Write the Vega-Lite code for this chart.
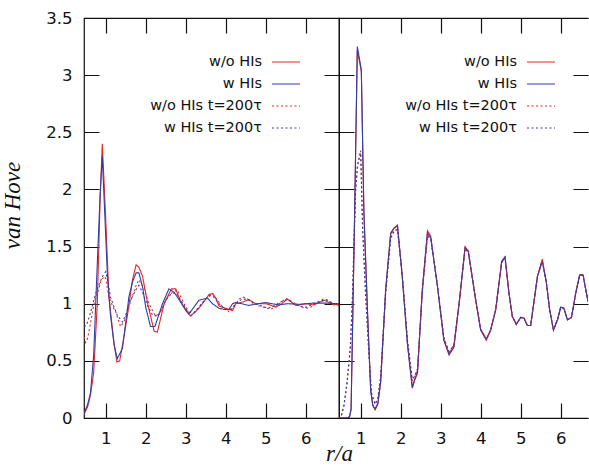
{
  "$schema": "https://vega.github.io/schema/vega-lite/v6.json",
  "padding": {"left": 0, "top": 9, "right": 0, "bottom": 0},
  "spacing": 0,
  "bounds": "flush",
  "background": "white",
  "config": {
    "view": {"stroke": "#111", "strokeWidth": 1.2},
    "axis": {
      "domain": false, "ticks": false,
      "gridColor": "#111", "gridWidth": 1.2, "gridOpacity": 1,
      "labelFont": "DejaVu Sans", "labelFontSize": 16.5, "labelColor": "#111",
      "labelPadding": 12, "labelOverlap": false,
      "titleFont": "Liberation Serif", "titleFontStyle": "italic", "titleFontWeight": "normal",
      "titleFontSize": 23, "titleColor": "#111"
    },
    "legend": {
      "orient": "none", "legendX": 187, "legendY": 29,
      "symbolType": "stroke", "symbolSize": 784, "symbolStrokeWidth": 1.2,
      "labelFont": "DejaVu Sans", "labelFontSize": 14.5, "labelColor": "#111",
      "labelAlign": "right", "labelOffset": -39, "rowPadding": -1.8, "padding": 0
    }
  },
  "datasets": {
    "L": [
      {"s":"w/o HIs","r":0.458,"v":0.03},{"s":"w/o HIs","r":0.55,"v":0.1},{"s":"w/o HIs","r":0.62,"v":0.2},{"s":"w/o HIs","r":0.7,"v":0.4},{"s":"w/o HIs","r":0.79,"v":1.0},{"s":"w/o HIs","r":0.86,"v":1.9},{"s":"w/o HIs","r":0.915,"v":2.4},{"s":"w/o HIs","r":1.0,"v":1.75},{"s":"w/o HIs","r":1.08,"v":1.06},{"s":"w/o HIs","r":1.21,"v":0.65},{"s":"w/o HIs","r":1.28,"v":0.49},{"s":"w/o HIs","r":1.35,"v":0.5},{"s":"w/o HIs","r":1.45,"v":0.7},{"s":"w/o HIs","r":1.54,"v":0.89},{"s":"w/o HIs","r":1.67,"v":1.21},{"s":"w/o HIs","r":1.76,"v":1.34},{"s":"w/o HIs","r":1.83,"v":1.32},{"s":"w/o HIs","r":1.92,"v":1.24},{"s":"w/o HIs","r":2.05,"v":1.0},{"s":"w/o HIs","r":2.21,"v":0.76},{"s":"w/o HIs","r":2.29,"v":0.75},{"s":"w/o HIs","r":2.46,"v":1.0},{"s":"w/o HIs","r":2.64,"v":1.13},{"s":"w/o HIs","r":2.75,"v":1.13},{"s":"w/o HIs","r":2.87,"v":1.02},{"s":"w/o HIs","r":3.0,"v":0.94},{"s":"w/o HIs","r":3.12,"v":0.89},{"s":"w/o HIs","r":3.33,"v":0.96},{"s":"w/o HIs","r":3.5,"v":1.04},{"s":"w/o HIs","r":3.58,"v":1.08},{"s":"w/o HIs","r":3.67,"v":1.09},{"s":"w/o HIs","r":3.75,"v":1.05},{"s":"w/o HIs","r":3.83,"v":0.98},{"s":"w/o HIs","r":4.0,"v":0.96},{"s":"w/o HIs","r":4.17,"v":0.94},{"s":"w/o HIs","r":4.25,"v":1.0},{"s":"w/o HIs","r":4.42,"v":1.015},{"s":"w/o HIs","r":4.58,"v":1.035},{"s":"w/o HIs","r":4.75,"v":1.0},{"s":"w/o HIs","r":5.0,"v":1.0},{"s":"w/o HIs","r":5.1,"v":0.99},{"s":"w/o HIs","r":5.25,"v":0.97},{"s":"w/o HIs","r":5.4,"v":1.0},{"s":"w/o HIs","r":5.54,"v":1.04},{"s":"w/o HIs","r":5.75,"v":0.985},{"s":"w/o HIs","r":6.0,"v":1.0},{"s":"w/o HIs","r":6.2,"v":0.99},{"s":"w/o HIs","r":6.46,"v":1.03},{"s":"w/o HIs","r":6.67,"v":0.995},{"s":"w/o HIs","r":6.83,"v":0.99},

      {"s":"w HIs","r":0.458,"v":0.04},{"s":"w HIs","r":0.55,"v":0.12},{"s":"w HIs","r":0.62,"v":0.22},{"s":"w HIs","r":0.7,"v":0.55},{"s":"w HIs","r":0.79,"v":1.35},{"s":"w HIs","r":0.86,"v":1.95},{"s":"w HIs","r":0.915,"v":2.29},{"s":"w HIs","r":1.04,"v":1.27},{"s":"w HIs","r":1.12,"v":0.9},{"s":"w HIs","r":1.21,"v":0.64},{"s":"w HIs","r":1.29,"v":0.52},{"s":"w HIs","r":1.42,"v":0.61},{"s":"w HIs","r":1.58,"v":1.06},{"s":"w HIs","r":1.67,"v":1.19},{"s":"w HIs","r":1.76,"v":1.27},{"s":"w HIs","r":1.83,"v":1.27},{"s":"w HIs","r":1.92,"v":1.15},{"s":"w HIs","r":2.0,"v":0.97},{"s":"w HIs","r":2.12,"v":0.8},{"s":"w HIs","r":2.23,"v":0.8},{"s":"w HIs","r":2.42,"v":1.0},{"s":"w HIs","r":2.58,"v":1.13},{"s":"w HIs","r":2.71,"v":1.1},{"s":"w HIs","r":2.92,"v":0.99},{"s":"w HIs","r":3.08,"v":0.91},{"s":"w HIs","r":3.33,"v":1.03},{"s":"w HIs","r":3.54,"v":1.05},{"s":"w HIs","r":3.67,"v":1.0},{"s":"w HIs","r":3.83,"v":0.96},{"s":"w HIs","r":3.96,"v":0.95},{"s":"w HIs","r":4.08,"v":0.95},{"s":"w HIs","r":4.17,"v":1.0},{"s":"w HIs","r":4.25,"v":1.01},{"s":"w HIs","r":4.4,"v":1.0},{"s":"w HIs","r":4.58,"v":0.985},{"s":"w HIs","r":4.8,"v":1.0},{"s":"w HIs","r":5.0,"v":1.01},{"s":"w HIs","r":5.15,"v":1.0},{"s":"w HIs","r":5.33,"v":0.99},{"s":"w HIs","r":5.55,"v":1.0},{"s":"w HIs","r":5.83,"v":0.995},{"s":"w HIs","r":6.0,"v":1.0},{"s":"w HIs","r":6.17,"v":1.005},{"s":"w HIs","r":6.5,"v":1.005},{"s":"w HIs","r":6.83,"v":1.0},

      {"s":"w/o HIs t=200τ","r":0.458,"v":0.71},{"s":"w/o HIs t=200τ","r":0.5,"v":0.66},{"s":"w/o HIs t=200τ","r":0.55,"v":0.7},{"s":"w/o HIs t=200τ","r":0.62,"v":0.83},{"s":"w/o HIs t=200τ","r":0.68,"v":0.95},{"s":"w/o HIs t=200τ","r":0.75,"v":1.06},{"s":"w/o HIs t=200τ","r":0.82,"v":1.12},{"s":"w/o HIs t=200τ","r":0.875,"v":1.19},{"s":"w/o HIs t=200τ","r":0.96,"v":1.24},{"s":"w/o HIs t=200τ","r":1.0,"v":1.22},{"s":"w/o HIs t=200τ","r":1.08,"v":1.06},{"s":"w/o HIs t=200τ","r":1.17,"v":0.98},{"s":"w/o HIs t=200τ","r":1.25,"v":0.93},{"s":"w/o HIs t=200τ","r":1.37,"v":0.8},{"s":"w/o HIs t=200τ","r":1.45,"v":0.84},{"s":"w/o HIs t=200τ","r":1.54,"v":0.92},{"s":"w/o HIs t=200τ","r":1.62,"v":1.02},{"s":"w/o HIs t=200τ","r":1.75,"v":1.15},{"s":"w/o HIs t=200τ","r":1.83,"v":1.21},{"s":"w/o HIs t=200τ","r":1.96,"v":1.13},{"s":"w/o HIs t=200τ","r":2.08,"v":1.0},{"s":"w/o HIs t=200τ","r":2.17,"v":0.94},{"s":"w/o HIs t=200τ","r":2.25,"v":0.89},{"s":"w/o HIs t=200τ","r":2.37,"v":0.93},{"s":"w/o HIs t=200τ","r":2.54,"v":1.06},{"s":"w/o HIs t=200τ","r":2.67,"v":1.1},{"s":"w/o HIs t=200τ","r":2.79,"v":1.12},{"s":"w/o HIs t=200τ","r":2.96,"v":1.0},{"s":"w/o HIs t=200τ","r":3.12,"v":0.9},{"s":"w/o HIs t=200τ","r":3.25,"v":0.93},{"s":"w/o HIs t=200τ","r":3.4,"v":1.0},{"s":"w/o HIs t=200τ","r":3.55,"v":1.06},{"s":"w/o HIs t=200τ","r":3.67,"v":1.09},{"s":"w/o HIs t=200τ","r":3.75,"v":1.05},{"s":"w/o HIs t=200τ","r":3.9,"v":0.98},{"s":"w/o HIs t=200τ","r":4.08,"v":0.93},{"s":"w/o HIs t=200τ","r":4.2,"v":0.97},{"s":"w/o HIs t=200τ","r":4.33,"v":1.04},{"s":"w/o HIs t=200τ","r":4.42,"v":1.06},{"s":"w/o HIs t=200τ","r":4.5,"v":1.05},{"s":"w/o HIs t=200τ","r":4.65,"v":1.02},{"s":"w/o HIs t=200τ","r":4.79,"v":0.985},{"s":"w/o HIs t=200τ","r":4.95,"v":0.97},{"s":"w/o HIs t=200τ","r":5.125,"v":0.95},{"s":"w/o HIs t=200τ","r":5.3,"v":0.99},{"s":"w/o HIs t=200τ","r":5.5,"v":1.045},{"s":"w/o HIs t=200τ","r":5.6,"v":1.03},{"s":"w/o HIs t=200τ","r":5.75,"v":1.0},{"s":"w/o HIs t=200τ","r":5.9,"v":0.97},{"s":"w/o HIs t=200τ","r":6.08,"v":0.96},{"s":"w/o HIs t=200τ","r":6.25,"v":1.0},{"s":"w/o HIs t=200τ","r":6.46,"v":1.045},{"s":"w/o HIs t=200τ","r":6.6,"v":1.02},{"s":"w/o HIs t=200τ","r":6.7,"v":0.99},{"s":"w/o HIs t=200τ","r":6.83,"v":0.99},

      {"s":"w HIs t=200τ","r":0.458,"v":0.8},{"s":"w HIs t=200τ","r":0.52,"v":0.81},{"s":"w HIs t=200τ","r":0.62,"v":0.92},{"s":"w HIs t=200τ","r":0.68,"v":1.0},{"s":"w HIs t=200τ","r":0.75,"v":1.09},{"s":"w HIs t=200τ","r":0.85,"v":1.18},{"s":"w HIs t=200τ","r":0.92,"v":1.24},{"s":"w HIs t=200τ","r":1.0,"v":1.28},{"s":"w HIs t=200τ","r":1.05,"v":1.2},{"s":"w HIs t=200τ","r":1.12,"v":1.06},{"s":"w HIs t=200τ","r":1.2,"v":0.98},{"s":"w HIs t=200τ","r":1.29,"v":0.9},{"s":"w HIs t=200τ","r":1.42,"v":0.84},{"s":"w HIs t=200τ","r":1.5,"v":0.9},{"s":"w HIs t=200τ","r":1.62,"v":1.03},{"s":"w HIs t=200τ","r":1.75,"v":1.12},{"s":"w HIs t=200τ","r":1.83,"v":1.16},{"s":"w HIs t=200τ","r":1.92,"v":1.1},{"s":"w HIs t=200τ","r":2.05,"v":0.98},{"s":"w HIs t=200τ","r":2.17,"v":0.9},{"s":"w HIs t=200τ","r":2.3,"v":0.89},{"s":"w HIs t=200τ","r":2.4,"v":0.95},{"s":"w HIs t=200τ","r":2.5,"v":1.03},{"s":"w HIs t=200τ","r":2.62,"v":1.08},{"s":"w HIs t=200τ","r":2.75,"v":1.1},{"s":"w HIs t=200τ","r":2.9,"v":1.02},{"s":"w HIs t=200τ","r":3.05,"v":0.93},{"s":"w HIs t=200τ","r":3.2,"v":0.92},{"s":"w HIs t=200τ","r":3.35,"v":0.98},{"s":"w HIs t=200τ","r":3.5,"v":1.04},{"s":"w HIs t=200τ","r":3.6,"v":1.07},{"s":"w HIs t=200τ","r":3.7,"v":1.06},{"s":"w HIs t=200τ","r":3.83,"v":1.0},{"s":"w HIs t=200τ","r":4.0,"v":0.95},{"s":"w HIs t=200τ","r":4.12,"v":0.95},{"s":"w HIs t=200τ","r":4.25,"v":1.0},{"s":"w HIs t=200τ","r":4.4,"v":1.04},{"s":"w HIs t=200τ","r":4.55,"v":1.04},{"s":"w HIs t=200τ","r":4.7,"v":1.0},{"s":"w HIs t=200τ","r":4.9,"v":0.98},{"s":"w HIs t=200τ","r":5.05,"v":0.96},{"s":"w HIs t=200τ","r":5.2,"v":0.98},{"s":"w HIs t=200τ","r":5.4,"v":1.02},{"s":"w HIs t=200τ","r":5.55,"v":1.04},{"s":"w HIs t=200τ","r":5.7,"v":1.0},{"s":"w HIs t=200τ","r":5.85,"v":0.98},{"s":"w HIs t=200τ","r":6.0,"v":0.97},{"s":"w HIs t=200τ","r":6.2,"v":1.0},{"s":"w HIs t=200τ","r":6.4,"v":1.03},{"s":"w HIs t=200τ","r":6.55,"v":1.03},{"s":"w HIs t=200τ","r":6.7,"v":1.0},{"s":"w HIs t=200τ","r":6.83,"v":1.0}
    ],
    "R": [
      {"s":"w/o HIs","r":0.458,"v":0.0},{"s":"w/o HIs","r":0.55,"v":0.0},{"s":"w/o HIs","r":0.65,"v":0.0},{"s":"w/o HIs","r":0.72,"v":0.01},{"s":"w/o HIs","r":0.76,"v":0.07},{"s":"w/o HIs","r":0.84,"v":1.6},{"s":"w/o HIs","r":0.916,"v":3.22},{"s":"w/o HIs","r":1.016,"v":3.03},{"s":"w/o HIs","r":1.08,"v":1.82},{"s":"w/o HIs","r":1.17,"v":0.95},{"s":"w/o HIs","r":1.25,"v":0.25},{"s":"w/o HIs","r":1.3,"v":0.12},{"s":"w/o HIs","r":1.36,"v":0.07},{"s":"w/o HIs","r":1.43,"v":0.12},{"s":"w/o HIs","r":1.5,"v":0.31},{"s":"w/o HIs","r":1.625,"v":1.12},{"s":"w/o HIs","r":1.75,"v":1.62},{"s":"w/o HIs","r":1.83,"v":1.66},{"s":"w/o HIs","r":1.92,"v":1.69},{"s":"w/o HIs","r":2.04,"v":1.24},{"s":"w/o HIs","r":2.17,"v":0.65},{"s":"w/o HIs","r":2.29,"v":0.26},{"s":"w/o HIs","r":2.35,"v":0.33},{"s":"w/o HIs","r":2.42,"v":0.39},{"s":"w/o HIs","r":2.54,"v":1.12},{"s":"w/o HIs","r":2.67,"v":1.64},{"s":"w/o HIs","r":2.75,"v":1.59},{"s":"w/o HIs","r":2.92,"v":1.15},{"s":"w/o HIs","r":3.08,"v":0.68},{"s":"w/o HIs","r":3.21,"v":0.55},{"s":"w/o HIs","r":3.33,"v":0.62},{"s":"w/o HIs","r":3.46,"v":1.0},{"s":"w/o HIs","r":3.61,"v":1.5},{"s":"w/o HIs","r":3.69,"v":1.46},{"s":"w/o HIs","r":3.875,"v":1.03},{"s":"w/o HIs","r":4.0,"v":0.77},{"s":"w/o HIs","r":4.14,"v":0.68},{"s":"w/o HIs","r":4.25,"v":0.77},{"s":"w/o HIs","r":4.375,"v":0.945},{"s":"w/o HIs","r":4.525,"v":1.37},{"s":"w/o HIs","r":4.608,"v":1.41},{"s":"w/o HIs","r":4.708,"v":1.09},{"s":"w/o HIs","r":4.79,"v":0.89},{"s":"w/o HIs","r":4.89,"v":0.82},{"s":"w/o HIs","r":5.0,"v":0.88},{"s":"w/o HIs","r":5.08,"v":0.875},{"s":"w/o HIs","r":5.167,"v":0.81},{"s":"w/o HIs","r":5.25,"v":0.81},{"s":"w/o HIs","r":5.42,"v":1.24},{"s":"w/o HIs","r":5.54,"v":1.39},{"s":"w/o HIs","r":5.64,"v":1.19},{"s":"w/o HIs","r":5.725,"v":0.945},{"s":"w/o HIs","r":5.82,"v":0.77},{"s":"w/o HIs","r":5.92,"v":0.86},{"s":"w/o HIs","r":6.0,"v":0.97},{"s":"w/o HIs","r":6.08,"v":0.96},{"s":"w/o HIs","r":6.17,"v":0.86},{"s":"w/o HIs","r":6.27,"v":0.88},{"s":"w/o HIs","r":6.375,"v":1.09},{"s":"w/o HIs","r":6.475,"v":1.25},{"s":"w/o HIs","r":6.56,"v":1.25},{"s":"w/o HIs","r":6.683,"v":1.02},

      {"s":"w HIs","r":0.458,"v":0.0},{"s":"w HIs","r":0.55,"v":0.0},{"s":"w HIs","r":0.65,"v":0.0},{"s":"w HIs","r":0.72,"v":0.01},{"s":"w HIs","r":0.76,"v":0.08},{"s":"w HIs","r":0.84,"v":1.62},{"s":"w HIs","r":0.916,"v":3.25},{"s":"w HIs","r":1.016,"v":3.05},{"s":"w HIs","r":1.08,"v":1.8},{"s":"w HIs","r":1.17,"v":0.93},{"s":"w HIs","r":1.25,"v":0.24},{"s":"w HIs","r":1.3,"v":0.11},{"s":"w HIs","r":1.36,"v":0.08},{"s":"w HIs","r":1.43,"v":0.13},{"s":"w HIs","r":1.5,"v":0.32},{"s":"w HIs","r":1.625,"v":1.13},{"s":"w HIs","r":1.75,"v":1.61},{"s":"w HIs","r":1.83,"v":1.66},{"s":"w HIs","r":1.92,"v":1.68},{"s":"w HIs","r":2.04,"v":1.23},{"s":"w HIs","r":2.17,"v":0.64},{"s":"w HIs","r":2.29,"v":0.27},{"s":"w HIs","r":2.35,"v":0.34},{"s":"w HIs","r":2.42,"v":0.4},{"s":"w HIs","r":2.54,"v":1.12},{"s":"w HIs","r":2.67,"v":1.62},{"s":"w HIs","r":2.75,"v":1.58},{"s":"w HIs","r":2.92,"v":1.15},{"s":"w HIs","r":3.08,"v":0.68},{"s":"w HIs","r":3.21,"v":0.56},{"s":"w HIs","r":3.33,"v":0.62},{"s":"w HIs","r":3.46,"v":1.0},{"s":"w HIs","r":3.61,"v":1.49},{"s":"w HIs","r":3.69,"v":1.46},{"s":"w HIs","r":3.875,"v":1.03},{"s":"w HIs","r":4.0,"v":0.77},{"s":"w HIs","r":4.14,"v":0.69},{"s":"w HIs","r":4.25,"v":0.77},{"s":"w HIs","r":4.375,"v":0.945},{"s":"w HIs","r":4.525,"v":1.37},{"s":"w HIs","r":4.608,"v":1.41},{"s":"w HIs","r":4.708,"v":1.09},{"s":"w HIs","r":4.79,"v":0.89},{"s":"w HIs","r":4.89,"v":0.82},{"s":"w HIs","r":5.0,"v":0.88},{"s":"w HIs","r":5.08,"v":0.875},{"s":"w HIs","r":5.167,"v":0.81},{"s":"w HIs","r":5.25,"v":0.81},{"s":"w HIs","r":5.42,"v":1.24},{"s":"w HIs","r":5.54,"v":1.37},{"s":"w HIs","r":5.64,"v":1.19},{"s":"w HIs","r":5.725,"v":0.945},{"s":"w HIs","r":5.82,"v":0.77},{"s":"w HIs","r":5.92,"v":0.86},{"s":"w HIs","r":6.0,"v":0.97},{"s":"w HIs","r":6.08,"v":0.96},{"s":"w HIs","r":6.17,"v":0.86},{"s":"w HIs","r":6.27,"v":0.88},{"s":"w HIs","r":6.375,"v":1.09},{"s":"w HIs","r":6.475,"v":1.25},{"s":"w HIs","r":6.56,"v":1.25},{"s":"w HIs","r":6.683,"v":1.02},

      {"s":"w/o HIs t=200τ","r":0.458,"v":0.0},{"s":"w/o HIs t=200τ","r":0.5,"v":0.0},{"s":"w/o HIs t=200τ","r":0.58,"v":0.1},{"s":"w/o HIs t=200τ","r":0.66,"v":0.3},{"s":"w/o HIs t=200τ","r":0.74,"v":0.6},{"s":"w/o HIs t=200τ","r":0.79,"v":1.0},{"s":"w/o HIs t=200τ","r":0.84,"v":1.6},{"s":"w/o HIs t=200τ","r":0.875,"v":2.0},{"s":"w/o HIs t=200τ","r":0.92,"v":2.2},{"s":"w/o HIs t=200τ","r":0.98,"v":2.3},{"s":"w/o HIs t=200τ","r":1.0,"v":2.32},{"s":"w/o HIs t=200τ","r":1.05,"v":1.65},{"s":"w/o HIs t=200τ","r":1.12,"v":1.12},{"s":"w/o HIs t=200τ","r":1.2,"v":0.6},{"s":"w/o HIs t=200τ","r":1.27,"v":0.22},{"s":"w/o HIs t=200τ","r":1.36,"v":0.12},{"s":"w/o HIs t=200τ","r":1.43,"v":0.17},{"s":"w/o HIs t=200τ","r":1.5,"v":0.36},{"s":"w/o HIs t=200τ","r":1.625,"v":1.1},{"s":"w/o HIs t=200τ","r":1.75,"v":1.58},{"s":"w/o HIs t=200τ","r":1.83,"v":1.64},{"s":"w/o HIs t=200τ","r":1.92,"v":1.65},{"s":"w/o HIs t=200τ","r":2.04,"v":1.25},{"s":"w/o HIs t=200τ","r":2.17,"v":0.68},{"s":"w/o HIs t=200τ","r":2.29,"v":0.33},{"s":"w/o HIs t=200τ","r":2.35,"v":0.36},{"s":"w/o HIs t=200τ","r":2.42,"v":0.42},{"s":"w/o HIs t=200τ","r":2.54,"v":1.1},{"s":"w/o HIs t=200τ","r":2.67,"v":1.6},{"s":"w/o HIs t=200τ","r":2.75,"v":1.58},{"s":"w/o HIs t=200τ","r":2.92,"v":1.16},{"s":"w/o HIs t=200τ","r":3.08,"v":0.7},{"s":"w/o HIs t=200τ","r":3.21,"v":0.57},{"s":"w/o HIs t=200τ","r":3.33,"v":0.64},{"s":"w/o HIs t=200τ","r":3.46,"v":1.0},{"s":"w/o HIs t=200τ","r":3.61,"v":1.48},{"s":"w/o HIs t=200τ","r":3.69,"v":1.46},{"s":"w/o HIs t=200τ","r":3.875,"v":1.04},{"s":"w/o HIs t=200τ","r":4.0,"v":0.78},{"s":"w/o HIs t=200τ","r":4.14,"v":0.69},{"s":"w/o HIs t=200τ","r":4.25,"v":0.77},{"s":"w/o HIs t=200τ","r":4.375,"v":0.95},{"s":"w/o HIs t=200τ","r":4.525,"v":1.36},{"s":"w/o HIs t=200τ","r":4.608,"v":1.4},{"s":"w/o HIs t=200τ","r":4.708,"v":1.09},{"s":"w/o HIs t=200τ","r":4.79,"v":0.89},{"s":"w/o HIs t=200τ","r":4.89,"v":0.82},{"s":"w/o HIs t=200τ","r":5.0,"v":0.88},{"s":"w/o HIs t=200τ","r":5.08,"v":0.875},{"s":"w/o HIs t=200τ","r":5.167,"v":0.81},{"s":"w/o HIs t=200τ","r":5.25,"v":0.81},{"s":"w/o HIs t=200τ","r":5.42,"v":1.24},{"s":"w/o HIs t=200τ","r":5.54,"v":1.38},{"s":"w/o HIs t=200τ","r":5.64,"v":1.19},{"s":"w/o HIs t=200τ","r":5.725,"v":0.945},{"s":"w/o HIs t=200τ","r":5.82,"v":0.77},{"s":"w/o HIs t=200τ","r":5.92,"v":0.86},{"s":"w/o HIs t=200τ","r":6.0,"v":0.97},{"s":"w/o HIs t=200τ","r":6.08,"v":0.96},{"s":"w/o HIs t=200τ","r":6.17,"v":0.86},{"s":"w/o HIs t=200τ","r":6.27,"v":0.88},{"s":"w/o HIs t=200τ","r":6.375,"v":1.09},{"s":"w/o HIs t=200τ","r":6.475,"v":1.25},{"s":"w/o HIs t=200τ","r":6.56,"v":1.25},{"s":"w/o HIs t=200τ","r":6.683,"v":1.02},

      {"s":"w HIs t=200τ","r":0.458,"v":0.0},{"s":"w HIs t=200τ","r":0.5,"v":0.0},{"s":"w HIs t=200τ","r":0.58,"v":0.11},{"s":"w HIs t=200τ","r":0.66,"v":0.32},{"s":"w HIs t=200τ","r":0.74,"v":0.62},{"s":"w HIs t=200τ","r":0.79,"v":1.02},{"s":"w HIs t=200τ","r":0.84,"v":1.62},{"s":"w HIs t=200τ","r":0.875,"v":2.0},{"s":"w HIs t=200τ","r":0.92,"v":2.21},{"s":"w HIs t=200τ","r":0.98,"v":2.31},{"s":"w HIs t=200τ","r":1.0,"v":2.34},{"s":"w HIs t=200τ","r":1.05,"v":1.64},{"s":"w HIs t=200τ","r":1.12,"v":1.1},{"s":"w HIs t=200τ","r":1.2,"v":0.59},{"s":"w HIs t=200τ","r":1.27,"v":0.21},{"s":"w HIs t=200τ","r":1.36,"v":0.12},{"s":"w HIs t=200τ","r":1.43,"v":0.17},{"s":"w HIs t=200τ","r":1.5,"v":0.36},{"s":"w HIs t=200τ","r":1.625,"v":1.1},{"s":"w HIs t=200τ","r":1.75,"v":1.57},{"s":"w HIs t=200τ","r":1.83,"v":1.63},{"s":"w HIs t=200τ","r":1.92,"v":1.65},{"s":"w HIs t=200τ","r":2.04,"v":1.25},{"s":"w HIs t=200τ","r":2.17,"v":0.68},{"s":"w HIs t=200τ","r":2.29,"v":0.34},{"s":"w HIs t=200τ","r":2.35,"v":0.37},{"s":"w HIs t=200τ","r":2.42,"v":0.43},{"s":"w HIs t=200τ","r":2.54,"v":1.1},{"s":"w HIs t=200τ","r":2.67,"v":1.59},{"s":"w HIs t=200τ","r":2.75,"v":1.57},{"s":"w HIs t=200τ","r":2.92,"v":1.16},{"s":"w HIs t=200τ","r":3.08,"v":0.7},{"s":"w HIs t=200τ","r":3.21,"v":0.58},{"s":"w HIs t=200τ","r":3.33,"v":0.64},{"s":"w HIs t=200τ","r":3.46,"v":1.0},{"s":"w HIs t=200τ","r":3.61,"v":1.48},{"s":"w HIs t=200τ","r":3.69,"v":1.45},{"s":"w HIs t=200τ","r":3.875,"v":1.04},{"s":"w HIs t=200τ","r":4.0,"v":0.78},{"s":"w HIs t=200τ","r":4.14,"v":0.69},{"s":"w HIs t=200τ","r":4.25,"v":0.77},{"s":"w HIs t=200τ","r":4.375,"v":0.95},{"s":"w HIs t=200τ","r":4.525,"v":1.36},{"s":"w HIs t=200τ","r":4.608,"v":1.4},{"s":"w HIs t=200τ","r":4.708,"v":1.09},{"s":"w HIs t=200τ","r":4.79,"v":0.89},{"s":"w HIs t=200τ","r":4.89,"v":0.82},{"s":"w HIs t=200τ","r":5.0,"v":0.88},{"s":"w HIs t=200τ","r":5.08,"v":0.875},{"s":"w HIs t=200τ","r":5.167,"v":0.81},{"s":"w HIs t=200τ","r":5.25,"v":0.81},{"s":"w HIs t=200τ","r":5.42,"v":1.24},{"s":"w HIs t=200τ","r":5.54,"v":1.37},{"s":"w HIs t=200τ","r":5.64,"v":1.19},{"s":"w HIs t=200τ","r":5.725,"v":0.945},{"s":"w HIs t=200τ","r":5.82,"v":0.77},{"s":"w HIs t=200τ","r":5.92,"v":0.86},{"s":"w HIs t=200τ","r":6.0,"v":0.97},{"s":"w HIs t=200τ","r":6.08,"v":0.96},{"s":"w HIs t=200τ","r":6.17,"v":0.86},{"s":"w HIs t=200τ","r":6.27,"v":0.88},{"s":"w HIs t=200τ","r":6.375,"v":1.09},{"s":"w HIs t=200τ","r":6.475,"v":1.25},{"s":"w HIs t=200τ","r":6.56,"v":1.25},{"s":"w HIs t=200τ","r":6.683,"v":1.02}
    ]
  },
  "hconcat": [
    {
      "width": 255, "height": 400,
      "data": {"name": "L"},
      "mark": {"type": "line", "strokeWidth": 1.1, "clip": true},
      "encoding": {
        "x": {"field": "r", "type": "quantitative", "scale": {"domain": [0.458, 6.83], "nice": false, "zero": false},
              "axis": {"orient": "bottom", "values": [1,2,3,4,5,6], "format": "d", "grid": true, "gridDash": [15, 370, 15],
                       "title": "r/a", "titleX": 255, "titleY": 42, "titleAlign": "center", "titleBaseline": "alphabetic"}},
        "y": {"field": "v", "type": "quantitative", "scale": {"domain": [0, 3.5], "nice": false, "zero": false},
              "axis": {"orient": "left", "values": [0,0.5,1,1.5,2,2.5,3,3.5], "format": "~g", "grid": true, "gridDash": [15, 225, 15],
                       "title": "van Hove", "titleX": -65, "titleY": 187, "titleAngle": 270, "titleAlign": "center", "titleBaseline": "alphabetic"}},
        "color": {"field": "s", "type": "nominal", "scale": {"domain": ["w/o HIs", "w HIs", "w/o HIs t=200τ", "w HIs t=200τ"], "range": ["#e3262b", "#2f3ea6", "#e3262b", "#2f3ea6"]}, "legend": {"title": null}},
        "strokeDash": {"field": "s", "type": "nominal", "scale": {"domain": ["w/o HIs", "w HIs", "w/o HIs t=200τ", "w HIs t=200τ"], "range": [[1,0],[1,0],[2,2.5],[2,2.5]]}, "legend": {"title": null}}
      }
    },
    {
      "width": 249, "height": 400,
      "view": {"stroke": "#111", "strokeWidth": 1.2, "strokeDash": [249, 400, 649]},
      "data": {"name": "R"},
      "mark": {"type": "line", "strokeWidth": 1.1, "clip": true},
      "encoding": {
        "x": {"field": "r", "type": "quantitative", "scale": {"domain": [0.458, 6.683], "nice": false, "zero": false},
              "axis": {"orient": "bottom", "values": [1,2,3,4,5,6], "format": "d", "grid": true, "gridDash": [15, 370, 15], "title": null}},
        "y": {"field": "v", "type": "quantitative", "scale": {"domain": [0, 3.5], "nice": false, "zero": false},
              "axis": {"orient": "left", "labels": false, "values": [0,0.5,1,1.5,2,2.5,3,3.5], "grid": true, "gridDash": [15, 219, 15], "title": null}},
        "color": {"field": "s", "type": "nominal", "scale": {"domain": ["w/o HIs", "w HIs", "w/o HIs t=200τ", "w HIs t=200τ"], "range": ["#e3262b", "#2f3ea6", "#e3262b", "#2f3ea6"]}, "legend": {"title": null}},
        "strokeDash": {"field": "s", "type": "nominal", "scale": {"domain": ["w/o HIs", "w HIs", "w/o HIs t=200τ", "w HIs t=200τ"], "range": [[1,0],[1,0],[2,2.5],[2,2.5]]}, "legend": {"title": null}}
      }
    }
  ],
  "resolve": {
    "scale": {"color": "independent", "strokeDash": "independent", "x": "independent", "y": "independent"},
    "legend": {"color": "independent", "strokeDash": "independent"}
  }
}
